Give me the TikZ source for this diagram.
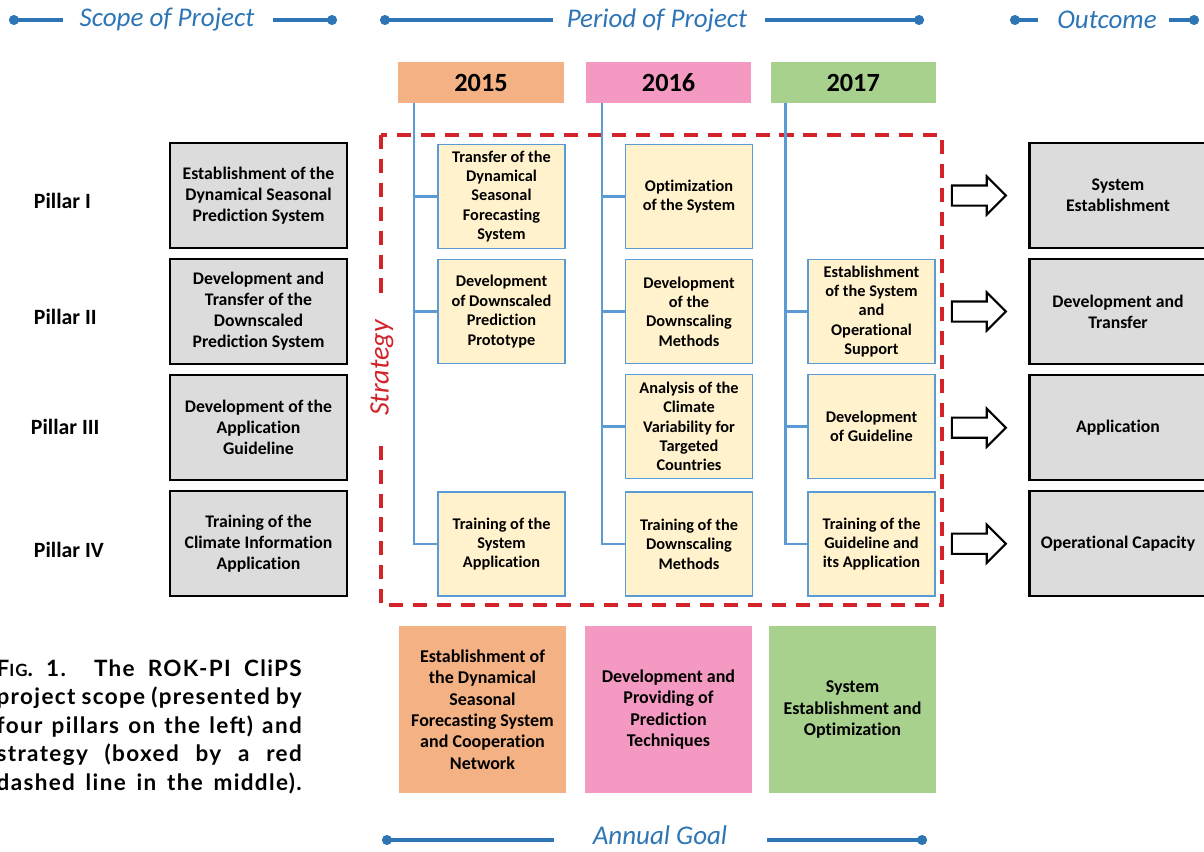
\documentclass[tikz,border=0pt]{standalone}
\usepackage{fontspec}
\setmainfont[Ligatures=NoCommon]{Carlito}
\newfontfamily\capfont[LetterSpace=6]{Lato}
\usepackage{tikz}
\usetikzlibrary{shapes.arrows, arrows.meta, positioning, calc}

\definecolor{hdrblue}{HTML}{2E75B6}
\definecolor{treeblue}{HTML}{5B9BD5}
\definecolor{taskfill}{HTML}{FFF2CC}
\definecolor{pillgray}{HTML}{DCDCDC}
\definecolor{yr15}{HTML}{F4B183}
\definecolor{yr16}{HTML}{F49AC2}
\definecolor{yr17}{HTML}{A9D18E}
\definecolor{stratred}{HTML}{D2232A}

\tikzstyle{scopebox} = [rectangle, draw=black, line width=1.6pt, fill=pillgray, minimum width=4.425cm, minimum height=2.625cm, align=center, font=\bfseries\fontsize{12.6}{14.9}\selectfont]
\tikzstyle{task} = [rectangle, draw=treeblue, line width=1.2pt, fill=taskfill, minimum width=3.175cm, minimum height=2.6cm, align=center, inner sep=1pt, font=\bfseries\fontsize{11.6}{13.8}\selectfont]
\tikzstyle{year} = [rectangle, minimum width=4.125cm, minimum height=1.025cm, font=\bfseries\fontsize{18.7}{20}\selectfont]
\tikzstyle{goal} = [rectangle, minimum width=4.175cm, minimum height=4.175cm, align=center, font=\bfseries\fontsize{12.8}{15.2}\selectfont]
\tikzstyle{pillar} = [anchor=west, font=\bfseries\fontsize{15.5}{17}\selectfont]
\tikzstyle{hdr} = [text=hdrblue, font=\itshape\fontsize{19.2}{21}\selectfont]
\tikzstyle{hdrline} = [hdrblue, line width=2.2pt]
\tikzstyle{tree} = [treeblue, line width=1.6pt]
\tikzstyle{bigarrow} = [single arrow, draw=black, line width=1.5pt, fill=white, minimum height=1.35cm, single arrow head extend=0.225cm, single arrow tip angle=90, inner sep=0pt]

\newcommand{\capline}[1]{\makebox[7.625cm][s]{#1}}

\begin{document}
\begin{tikzpicture}[x=0.025cm, y=-0.025cm]
  \useasboundingbox (0,0) rectangle (1204,851);

  % Titles
  \node[hdr] (scope) at (167,20) {Scope of Project};
  \node[hdr] (period) at (657,20) {Period of Project};
  \node[hdr] (outc) at (1107,20) {Outcome};
  \node[hdr] (goalt) at (660,835) {Annual Goal};

  \coordinate (s1) at (9,20);    \coordinate (s2) at (63,20);
  \coordinate (s3) at (273,20);  \coordinate (s4) at (337,20);
  \coordinate (p1) at (380,20);  \coordinate (p2) at (553,20);
  \coordinate (p3) at (765,20);  \coordinate (p4) at (924,20);
  \coordinate (o1) at (1010,20); \coordinate (o2) at (1038,20);
  \coordinate (o3) at (1169,20); \coordinate (o4) at (1199,20);
  \coordinate (a1) at (382,840); \coordinate (a2) at (554,840);
  \coordinate (a3) at (767,840); \coordinate (a4) at (927,840);

  \draw[hdrline, {Circle[length=7pt]}-] (s1) -- (s2);
  \draw[hdrline, -{Circle[length=7pt]}] (s3) -- (s4);
  \draw[hdrline, {Circle[length=7pt]}-] (p1) -- (p2);
  \draw[hdrline, -{Circle[length=7pt]}] (p3) -- (p4);
  \draw[hdrline, {Circle[length=7pt]}-] (o1) -- (o2);
  \draw[hdrline, -{Circle[length=7pt]}] (o3) -- (o4);
  \draw[hdrline, {Circle[length=7pt]}-] (a1) -- (a2);
  \draw[hdrline, -{Circle[length=7pt]}] (a3) -- (a4);

  % Pillars
  \node[pillar] (pl1) at (29,201) {Pillar I};
  \node[pillar] (pl2) at (29,317) {Pillar II};
  \node[pillar] (pl3) at (26,427) {Pillar III};
  \node[pillar] (pl4) at (29,550) {Pillar IV};

  \node[scopebox] (sc1) at (258.5,195.5) {Establishment of the\\Dynamical Seasonal\\Prediction System};
  \node[scopebox, below=0.22cm of sc1] (sc2) {Development and\\Transfer of the\\Downscaled\\Prediction System};
  \node[scopebox, below=0.22cm of sc2] (sc3) {Development of the\\Application\\Guideline};
  \node[scopebox, below=0.22cm of sc3] (sc4) {Training of the\\Climate Information\\Application};

  % Years
  \node[year, fill=yr15] (y15) at (481,82.5) {2015};
  \node[year, fill=yr16, right=0.55cm of y15] (y16) {2016};
  \node[year, fill=yr17, right=0.475cm of y16] (y17) {2017};

  % Strategy frame
  \draw[stratred, line width=2.5pt, dash pattern=on 10pt off 7pt] (381,135) rectangle (942,605);
  \node[rotate=90, fill=white, text=stratred, inner xsep=0.5cm, inner ysep=2pt, font=\itshape\fontsize{20}{22}\selectfont] (strat) at (382,368) {Strategy};

  % 2015
  \node[task] (t15a) at (501.5,196.5) {Transfer of the\\Dynamical\\Seasonal\\Forecasting\\System};
  \node[task] (t15b) at (501.5,311.5) {Development\\of Downscaled\\Prediction\\Prototype};
  \node[task] (t15d) at (501.5,544) {Training of the\\System\\Application};

  % 2016
  \node[task] (t16a) at (689,196.5) {Optimization\\of the System};
  \node[task] (t16b) at (689,311.5) {Development\\of the\\Downscaling\\Methods};
  \node[task] (t16c) at (689,426.5) {Analysis of the\\Climate\\Variability for\\Targeted\\Countries};
  \node[task] (t16d) at (689,544) {Training of the\\Downscaling\\Methods};

  % 2017
  \node[task] (t17b) at (871.5,311.5) {Establishment\\of the System\\and\\Operational\\Support};
  \node[task] (t17c) at (871.5,426.5) {Development\\of Guideline};
  \node[task] (t17d) at (871.5,544) {Training of the\\Guideline and\\its Application};

  \foreach \t in {t15a,t15b,t15d}
    \draw[tree] ($(y15.south west)+(16,0)$) |- (\t.west);
  \foreach \t in {t16a,t16b,t16c,t16d}
    \draw[tree] ($(y16.south west)+(16,0)$) |- (\t.west);
  \foreach \t in {t17b,t17c,t17d}
    \draw[tree] ($(y17.south west)+(15,0)$) |- (\t.west);

  % Outcomes
  \node[scopebox] (out1) at (1118,195.5) {System\\Establishment};
  \node[scopebox, below=0.22cm of out1] (out2) {Development and\\Transfer};
  \node[scopebox, below=0.22cm of out2] (out3) {Application};
  \node[scopebox, below=0.22cm of out3] (out4) {Operational Capacity};

  \foreach \i in {1,...,4}
    \node[bigarrow, left=0.525cm of out\i] (ar\i) {\rule{0pt}{0.45cm}};

  % Annual goals
  \node[goal, fill=yr15] (g15) at (482.5,709.5) {Establishment of\\the Dynamical\\Seasonal\\Forecasting System\\and Cooperation\\Network};
  \node[goal, fill=yr16] (g16) at (668.5,709.5) {Development and\\Providing of\\Prediction\\Techniques};
  \node[goal, fill=yr17] (g17) at (852.5,709.5) {System\\Establishment and\\Optimization};

  % Caption
  \node[anchor=north east, align=right, inner sep=0pt, font=\capfont\bfseries\fontsize{16}{20.3}\selectfont] (cap) at (302,659)
    {\capline{F{\fontsize{12}{20.3}\selectfont IG}. 1. The ROK-PI CliPS}\\
     \capline{project scope (presented by}\\
     \capline{four pillars on the left) and}\\
     \capline{strategy (boxed by a red}\\
     \capline{dashed line in the middle).}};
\end{tikzpicture}
\end{document}
